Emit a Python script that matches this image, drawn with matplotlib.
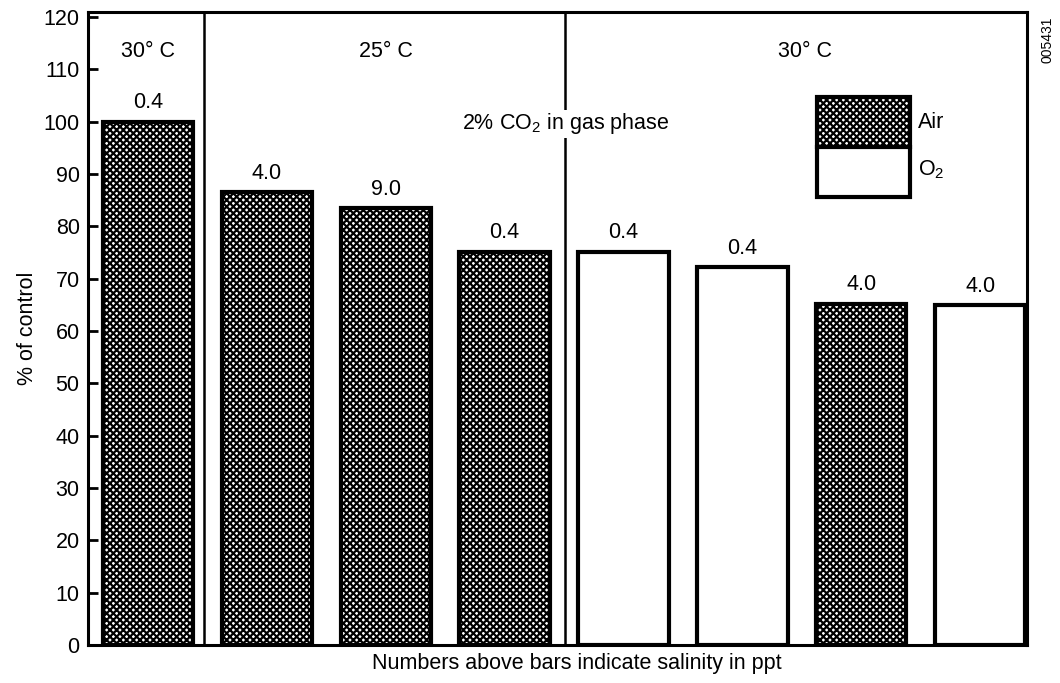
import matplotlib
matplotlib.use('Agg')
import matplotlib.pyplot as plt
from matplotlib.patches import Rectangle

# data
salinity = ['0.4', '4.0', '9.0', '0.4', '0.4', '0.4', '4.0', '4.0']
pct_control = [100, 86.5, 83.5, 75.2, 75.2, 72.2, 65.2, 64.9]
gas = ['Air', 'Air', 'Air', 'Air', 'O2', 'O2', 'Air', 'O2']
temps = ['30° C', '25° C', '30° C']
temp_label_x = [0, 2, 5.53]
yticks = list(range(0, 121, 10))

plt.rcParams['font.family'] = ['Liberation Sans', 'DejaVu Sans']
plt.rcParams['mathtext.fontset'] = 'custom'
plt.rcParams['mathtext.rm'] = 'Liberation Sans'
plt.rcParams['mathtext.it'] = 'Liberation Sans:italic'
plt.rcParams['hatch.linewidth'] = 1.6
plt.rcParams['hatch.color'] = 'black'
HATCH = 'xxxxx'

fig = plt.figure(figsize=(10.6, 6.83), dpi=100)
ax = fig.add_axes([0.083, 0.0556, 0.886, 0.927])

x = list(range(len(pct_control)))
for xi, v, g, s in zip(x, pct_control, gas, salinity):
    hatch = HATCH if g == 'Air' else None
    ax.bar(xi, v, width=0.76, facecolor='white', edgecolor='black',
           linewidth=3, hatch=hatch, zorder=2)
    ax.text(xi, v + 1.6, s, ha='center', va='bottom', fontsize=15.5)

# group dividers
for xd in [0.47, 3.51]:
    ax.axvline(xd, color='black', linewidth=1.8, zorder=1)

for t, tx in zip(temps, temp_label_x):
    ax.text(tx, 113.4, t, ha='center', va='center', fontsize=15.5)

ax.text(3.51, 99.6, '2% CO$_2$ in gas phase', ha='center', va='center',
        fontsize=15.5, zorder=3,
        bbox=dict(facecolor='white', edgecolor='none', pad=1))

# legend boxes
ax.add_patch(Rectangle((0.776, 0.787), 0.099, 0.079, transform=ax.transAxes,
                       facecolor='white', edgecolor='black', linewidth=3,
                       hatch=HATCH, zorder=3))
ax.add_patch(Rectangle((0.776, 0.708), 0.099, 0.079, transform=ax.transAxes,
                       facecolor='white', edgecolor='black', linewidth=3,
                       zorder=3))
ax.text(0.884, 0.825, 'Air', transform=ax.transAxes, va='center', fontsize=15.5)
ax.text(0.884, 0.750, 'O$_2$', transform=ax.transAxes, va='center', fontsize=15.5)

ax.set_xlim(-0.505, 7.395)
ax.set_ylim(0, 121)
ax.set_yticks(yticks)
ax.set_xticks([])
ax.tick_params(axis='y', direction='in', length=7, width=2, labelsize=15.5, pad=6)
for sp in ax.spines.values():
    sp.set_linewidth(2.2)

ax.set_ylabel('% of control', fontsize=15.5, labelpad=4)
fig.text(577 / 1060, 1 - 663 / 683, 'Numbers above bars indicate salinity in ppt',
         ha='center', va='center', fontsize=15.5)
fig.text(1048 / 1060, 1 - 40 / 683, '005431', rotation=90, ha='center',
         va='center', fontsize=10)

fig.savefig('out.png', dpi=100)
